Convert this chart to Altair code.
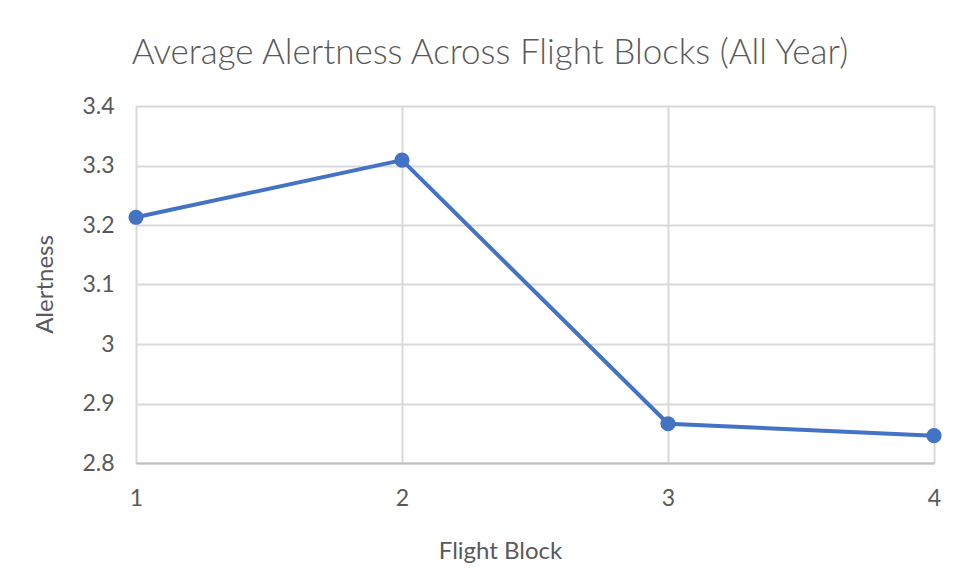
import altair as alt
import pandas as pd

flight_block = [1, 2, 3, 4]
alertness = [3.213, 3.309, 2.866, 2.846]

df = pd.DataFrame({"Flight Block": flight_block, "Alertness": alertness})

FONT = "Lato"
GRAY = "#595959"
BLUE = "#4472C4"

x_enc = alt.X(
    "Flight Block:Q",
    scale=alt.Scale(domain=[1, 4], nice=False, zero=False),
    axis=alt.Axis(
        values=[1, 2, 3, 4],
        format="d",
        title="Flight Block",
        titleX=364,
        titleY=95,
        titleBaseline="alphabetic",
        titleAlign="center",
        titleFont=FONT,
        titleFontSize=24,
        titleFontWeight="normal",
        titleColor=GRAY,
        labelFont=FONT,
        labelFontSize=23,
        labelColor=GRAY,
        labelPadding=24,
        labelFlush=False,
        ticks=False,
        grid=True,
        gridColor="#d9d9d9",
        gridWidth=2,
        domain=True,
        domainColor="#bfbfbf",
        domainWidth=2,
    ),
)
y_enc = alt.Y(
    "Alertness:Q",
    scale=alt.Scale(domain=[2.8, 3.4], nice=False, zero=False),
    axis=alt.Axis(
        values=[2.8, 2.9, 3.0, 3.1, 3.2, 3.3, 3.4],
        format=".1~f",
        title="Alertness",
        titleX=-91,
        titleY=178,
        titleAngle=-90,
        titleBaseline="middle",
        titleAlign="center",
        titleFont=FONT,
        titleFontSize=24,
        titleFontWeight="normal",
        titleColor=GRAY,
        labelFont=FONT,
        labelFontSize=23,
        labelColor=GRAY,
        labelPadding=22,
        ticks=False,
        grid=True,
        gridColor="#d9d9d9",
        gridWidth=2,
        domain=False,
    ),
)

line = alt.Chart(df).mark_line(color=BLUE, strokeWidth=4).encode(x=x_enc, y=y_enc)
pts = alt.Chart(df).mark_point(filled=True, color=BLUE, size=230, opacity=1).encode(
    x="Flight Block:Q", y="Alertness:Q"
)

chart = (
    alt.layer(line, pts)
    .properties(
        width=798,
        height=357,
        padding={"left": 128, "top": 98, "right": 10, "bottom": 110},
        autosize=alt.AutoSizeParams(type="none"),
        title=alt.TitleParams(
            "Average Alertness Across Flight Blocks (All Year)",
            font=FONT,
            fontSize=35,
            fontWeight=300,
            color=GRAY,
            anchor="middle",
            frame="group",
            dx=-45,
            baseline="alphabetic",
            offset=-4,
        ),
    )
    .configure_view(stroke=None)
    .configure(background="white")
)

chart.save("out.html", embed_options={"renderer": "svg", "actions": False})
